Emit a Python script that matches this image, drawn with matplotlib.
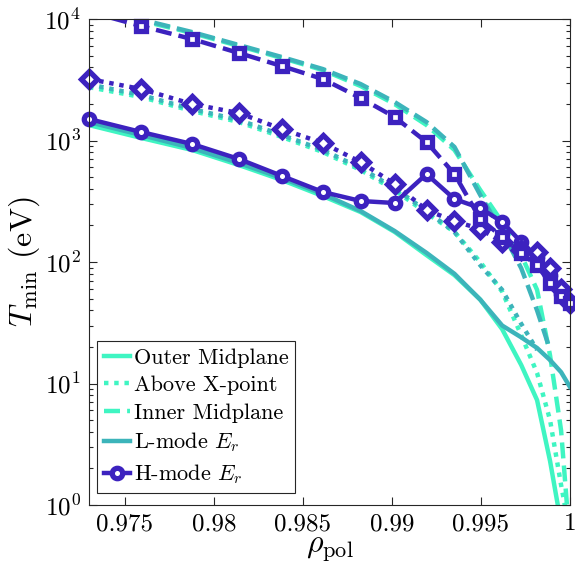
import numpy as np
import matplotlib
matplotlib.use("Agg")
import matplotlib.pyplot as plt

plt.rcParams['mathtext.fontset'] = 'cm'
plt.rcParams['font.family'] = ['cmr10', 'DejaVu Serif']
plt.rcParams['axes.formatter.use_mathtext'] = True

# rho_pol grid (marker positions)
rho = [0.9730, 0.97593, 0.97879, 0.98142, 0.98383, 0.98613, 0.98825, 0.99016,
       0.99195, 0.99352, 0.99497, 0.99620, 0.99727, 0.99816, 0.99889, 0.99951, 1.0]

# turquoise: no Er
outer_mid = [1340, 1050, 836, 628, 473, 349, 258, 177, 114, 78, 49, 28, 14.2, 7.3, 2.3, 0.7, 0.3]
above_xpt = [2750, 2280, 1750, 1420, 1069, 804, 572, 391, 253, 177, 100, 57, 25, 12.2, 5.0, 1.46, 0.6]
inner_mid = [14000, 9700, 7670, 6000, 4780, 3800, 2810, 1995, 1342, 836, 391, 213, 114, 59, 17, 4.1, 0.5]

# teal: L-mode Er
lmode_outer = [1420, 1110, 867, 653, 491, 363, 263, 180, 119, 80, 49, 30, 24, 19.6, 15.6, 12.4, 9.4]
lmode_above = [2900, 2368, 1816, 1475, 1110, 836, 594, 406, 263, 177, 94, 59, 31, 18.9,
               np.nan, np.nan, np.nan]
lmode_inner = [14500, 9900, 7810, 6110, 4865, 3875, 2917, 2074, 1420, 885, 356, 177, 89, 40, 18.9,
               np.nan, np.nan]

# indigo: H-mode Er
hmode_outer = [1503, 1175, 936, 704, 511, 377, 318, 306, 530, 330, 278, 214, 146, 110, 78, 55, 46]
hmode_above = [3207, 2654, 1996, 1683, 1243, 953, 665, 439, 268, 217, 187, 146, 126, 120, 89, 60, 46]
hmode_inner = [11500, 8750, 6840, 5250, 4100, 3207, 2240, 1560, 972, 530, 226, 161, 118, 94, 67, 53, 46]

labels = ['Outer Midplane', 'Above X-point', 'Inner Midplane', 'L-mode $E_r$', 'H-mode $E_r$']
xticks = [0.975, 0.98, 0.985, 0.99, 0.995, 1.0]
xticklabels = ['0.975', '0.98', '0.985', '0.99', '0.995', '1']
yticks = [1, 10, 100, 1000, 10000]
yticklabels = ['$10^{0}$', '$10^{1}$', '$10^{2}$', '$10^{3}$', '$10^{4}$']

c_turq = '#3ff5c2'
c_teal = '#3cb4ba'
c_h = '#3c22bf'
lw = 3.2
dot = (1.0, 1.3)
dash = (3.6, 1.6)

fig = plt.figure(figsize=(5.75, 5.69), dpi=100)
ax = fig.add_axes([0.155, 0.1125, 0.836, 0.854])

x = np.array(rho)

ax.plot(x, outer_mid, color=c_turq, lw=lw, label=labels[0])
ax.plot(x, above_xpt, color=c_turq, lw=lw, dashes=dot, label=labels[1])
ax.plot(x, inner_mid, color=c_turq, lw=lw, dashes=dash, label=labels[2])

ax.plot(x, lmode_outer, color=c_teal, lw=lw, label=labels[3])
ax.plot(x, lmode_above, color=c_teal, lw=lw, dashes=dot)
ax.plot(x, lmode_inner, color=c_teal, lw=lw, dashes=dash)

mk = dict(markerfacecolor='white', markeredgecolor=c_h, markeredgewidth=3.8)
ax.plot(x, hmode_outer, color=c_h, lw=lw, marker='o', markersize=7.5, clip_on=False,
        label=labels[4], **mk)
ax.plot(x, hmode_above, color=c_h, lw=lw, dashes=dot, marker='D', markersize=8.5,
        clip_on=False, **mk)
ax.plot(x, hmode_inner, color=c_h, lw=lw, dashes=dash)
hi = np.array(hmode_inner)
m = hi <= 1e4
ax.plot(x[m], hi[m], ls='none', marker='s', markersize=7.5, clip_on=False, **mk)

ax.set_yscale('log')
ax.set_xlim(0.973, 1.0)
ax.set_ylim(1, 1e4)
ax.set_xticks(xticks)
ax.set_xticklabels(xticklabels)
ax.set_yticks(yticks)
ax.set_yticklabels(yticklabels)
ax.tick_params(which='both', direction='in', top=True, right=True, labelsize=18,
               colors='#262626', labelcolor='black', width=0.8)
ax.tick_params(which='major', length=6, pad=6)
ax.tick_params(which='minor', length=3)
ax.tick_params(axis='x', which='minor', bottom=False, top=False)
for s in ax.spines.values():
    s.set_linewidth(0.8)
    s.set_color('#262626')

ax.set_xlabel(r'$\rho_{\mathrm{pol}}$', fontsize=23, labelpad=0)
ax.set_ylabel(r'$T_{\mathrm{min}}$ (eV)', fontsize=23, labelpad=2)

leg = ax.legend(loc='lower left', bbox_to_anchor=(0.017, 0.025), borderaxespad=0,
                fontsize=16, handlelength=1.15, handletextpad=0.2,
                labelspacing=0.36, borderpad=0.3, fancybox=False,
                framealpha=1, edgecolor='#262626')
leg.get_frame().set_linewidth(0.8)

fig.savefig('out.png', dpi=100)
